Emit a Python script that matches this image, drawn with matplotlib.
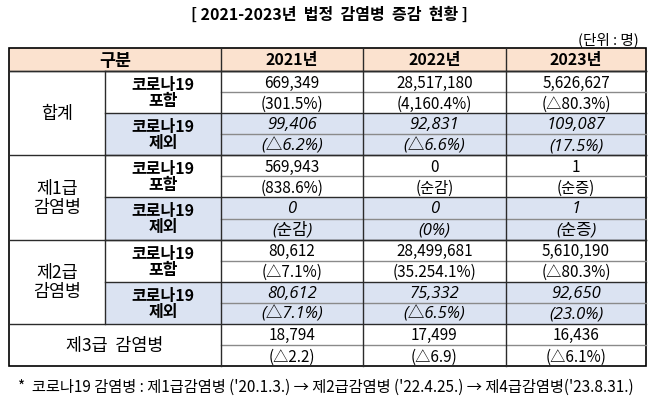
"""
2021-2023 legal infectious disease count table.
"""
import matplotlib.pyplot as plt
from matplotlib.patches import Rectangle

YEARS = ['2021년', '2022년', '2023년']
GROUPS = ['합계', '제1급\n감염병', '제2급\n감염병']
SUBGROUPS = ['코로나19\n포함', '코로나19\n제외']
CLASS3_LABEL = '제3급  감염병'

# counts and change labels per year
total_incl = [669349, 28517180, 5626627]
total_incl_chg = ['(301.5%)', '(4,160.4%)', '(△80.3%)']
total_excl = [99406, 92831, 109087]
total_excl_chg = ['(△6.2%)', '(△6.6%)', '(17.5%)']
class1_incl = [569943, 0, 1]
class1_incl_chg = ['(838.6%)', '(순감)', '(순증)']
class1_excl = [0, 0, 1]
class1_excl_chg = ['(순감)', '(0%)', '(순증)']
class2_incl = [80612, 28499681, 5610190]
class2_incl_chg = ['(△7.1%)', '(35.254.1%)', '(△80.3%)']
class2_excl = [80612, 75332, 92650]
class2_excl_chg = ['(△7.1%)', '(△6.5%)', '(23.0%)']
class3 = [18794, 17499, 16436]
class3_chg = ['(△2.2)', '(△6.9)', '(△6.1%)']

TITLE = '[ 2021-2023년  법정  감염병  증감  현황 ]'
UNIT = '(단위 : 명)'
FOOTNOTE = ("*  코로나19 감염병 : 제1급감염병 ('20.1.3.) → 제2급감염병 ('22.4.25.) "
            "→ 제4급감염병('23.8.31.)")

HEADER_COLOR = '#fbe2cf'
EXCL_COLOR = '#dbe3f2'
LINE_DARK = '#2b2b2b'
LINE_GREY = '#8a8a8a'

KR = ['Noto Sans CJK KR', 'DejaVu Sans']
KR_IT = ['Open Sans', 'Noto Sans CJK KR', 'DejaVu Sans']
plt.rcParams['font.family'] = KR

# column edges and row geometry (pixels)
XS = [9, 105, 221, 363, 506, 646]
HEAD_TOP, HEAD_BOT = 49, 72
ROW_H = (367 - HEAD_BOT) / 14


def row_y(k):
    return HEAD_BOT + k * ROW_H


fig = plt.figure(figsize=(6.58, 4.02), dpi=100)
ax = fig.add_axes([0, 0, 1, 1])
ax.set_xlim(0, 658)
ax.set_ylim(402, 0)
ax.axis('off')

ax.text(329, 15, TITLE, ha='center', va='center', fontsize=11.5, fontweight='bold')
ax.text(639, 40, UNIT, ha='right', va='center', fontsize=10.5)

# header
ax.add_patch(Rectangle((XS[0], HEAD_TOP), XS[-1] - XS[0], HEAD_BOT - HEAD_TOP,
                       facecolor=HEADER_COLOR, edgecolor='none'))
ax.text((XS[0] + XS[2]) / 2, (HEAD_TOP + HEAD_BOT) / 2, '구분', ha='center',
        va='center', fontsize=12.5, fontweight='bold')
for i, yr in enumerate(YEARS):
    ax.text((XS[i + 2] + XS[i + 3]) / 2, (HEAD_TOP + HEAD_BOT) / 2, yr,
            ha='center', va='center', fontsize=11.5, fontweight='bold')

blocks = [
    (total_incl, total_incl_chg, total_excl, total_excl_chg),
    (class1_incl, class1_incl_chg, class1_excl, class1_excl_chg),
    (class2_incl, class2_incl_chg, class2_excl, class2_excl_chg),
]


def value_pair(k, vals, chg, italic):
    fam = KR_IT if italic else KR
    sty = 'italic' if italic else 'normal'
    fs = 12 if italic else 11
    for i in range(3):
        xc = (XS[i + 2] + XS[i + 3]) / 2
        ax.text(xc, row_y(k) + ROW_H / 2 + 0.5, f'{vals[i]:,}', ha='center',
                va='center', fontsize=fs, family=fam, style=sty)
        ax.text(xc, row_y(k + 1) + ROW_H / 2 + 0.5, chg[i], ha='center',
                va='center', fontsize=fs, family=fam, style=sty)
    ax.plot([XS[2], XS[-1]], [row_y(k + 1)] * 2, color=LINE_GREY, lw=1)


for g, (inc, inc_c, exc, exc_c) in enumerate(blocks):
    k0 = g * 4
    # excl rows shaded
    ax.add_patch(Rectangle((XS[1], row_y(k0 + 2)), XS[-1] - XS[1], 2 * ROW_H,
                           facecolor=EXCL_COLOR, edgecolor='none'))
    ax.text((XS[0] + XS[1]) / 2, row_y(k0 + 2), GROUPS[g], ha='center',
            va='center', fontsize=12.5, linespacing=1.05)
    for s, italic in enumerate([False, True]):
        ks = k0 + 2 * s
        ax.text((XS[1] + XS[2]) / 2, row_y(ks + 1), SUBGROUPS[s], ha='center',
                va='center', fontsize=11.5, fontweight='bold', linespacing=1.0,
                style='italic' if italic else 'normal')
        vals, chg = (inc, inc_c) if s == 0 else (exc, exc_c)
        value_pair(ks, vals, chg, italic)
        ax.plot([XS[1], XS[-1]], [row_y(ks)] * 2, color=LINE_DARK, lw=1)
    ax.plot([XS[0], XS[-1]], [row_y(k0)] * 2, color=LINE_DARK, lw=1)
    ax.plot([XS[1], XS[1]], [row_y(k0), row_y(k0 + 4)], color=LINE_DARK, lw=1)

# class 3 row
ax.text((XS[0] + XS[2]) / 2, row_y(13), CLASS3_LABEL, ha='center', va='center',
        fontsize=12.5)
value_pair(12, class3, class3_chg, False)
ax.plot([XS[0], XS[-1]], [row_y(12)] * 2, color=LINE_DARK, lw=1)

# vertical lines and frame
for x in XS[2:5]:
    ax.plot([x, x], [HEAD_TOP, row_y(14)], color=LINE_DARK, lw=1)
ax.plot([XS[0], XS[-1]], [HEAD_BOT] * 2, color=LINE_DARK, lw=1)
ax.add_patch(Rectangle((XS[0], HEAD_TOP), XS[-1] - XS[0], row_y(14) - HEAD_TOP,
                       facecolor='none', edgecolor='black', lw=1.2))

ax.text(18, 387, FOOTNOTE, ha='left', va='center', fontsize=11)

plt.savefig('out.png', dpi=100)
